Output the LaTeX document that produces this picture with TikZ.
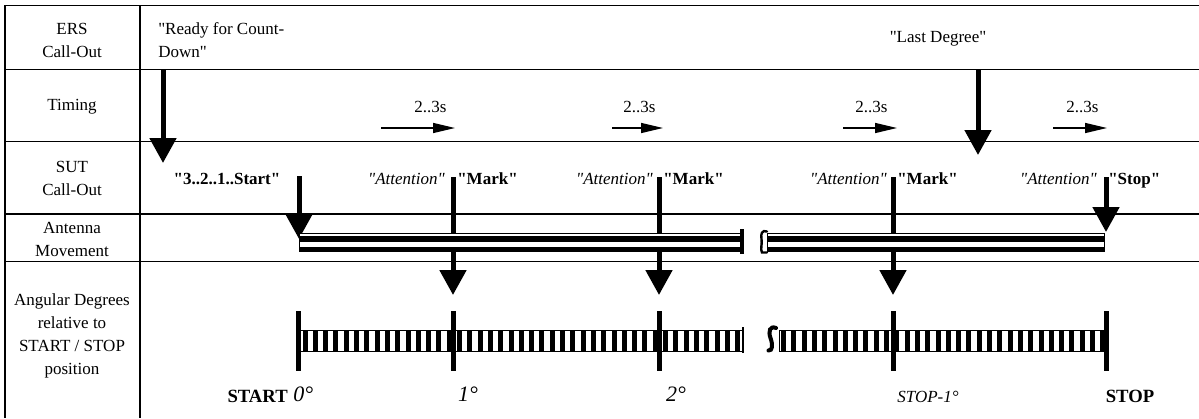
\documentclass[tikz,border=0pt]{standalone}
\usepackage{fontspec}
\setmainfont{Liberation Serif}[Ligatures=TeXOff]
\usetikzlibrary{arrows.meta}
\newcommand\fsA{\fontsize{12.75pt}{17.25pt}\selectfont}
\newcommand\fsB{\fontsize{16.5pt}{18pt}\selectfont}
\newcommand\fsC{\fontsize{14pt}{16pt}\selectfont}
\begin{document}
\begin{tikzpicture}[x=0.75pt,y=-0.75pt,
  grid/.style={line width=1.1pt},
  lab/.style={align=center,font=\fsA,inner sep=0pt},
  txt/.style={font=\fsA,inner sep=0pt},
  boldtxt/.style={font=\fsA\bfseries,inner sep=0pt},
  itxt/.style={font=\fsA\itshape,inner sep=0pt},
  bigarrow/.style={line width=3.75pt,-{Triangle[length=18.75pt,width=19.5pt]}},
  timearrow/.style={line width=1.1pt,-{Triangle[length=16.5pt,width=7.5pt]}},
  tickmark/.style={line width=3.75pt},
  thinout/.style={line width=0.75pt},
  brk/.style={line width=1.8pt,line cap=round},
]
\useasboundingbox (0,0) rectangle (1199,418);
% table grid
\draw[grid] (1199,5.7) -- (5,5.7) -- (5,418);
\draw[grid] (140,5.7) -- (140,418);
\foreach \yy in {69.3,141.5,214,261.7} \draw[grid] (5,\yy) -- (1199,\yy);

% left column labels
\node[lab] (l1) at (72,40) {ERS\\Call-Out};
\node[lab] (l2) at (72,107) {Timing};
\node[lab] (l3) at (72,178.5) {SUT\\Call-Out};
\node[lab] (l4) at (72,239.5) {Antenna\\Movement};
\node[lab] (l5) at (72,335.5) {Angular Degrees\\relative to\\START / STOP\\position};

% ERS call-outs
\node[txt,align=left,anchor=west] (rdy) at (158,40) {"Ready for Count-\\Down"};
\node[txt] (last) at (938,38.5) {"Last Degree"};

% big arrows
\coordinate (a1s) at (163,69.3);   \coordinate (a1e) at (163,163);
\coordinate (a2s) at (978,69.3);   \coordinate (a2e) at (978,155);
\coordinate (a3s) at (299,176);    \coordinate (a3e) at (299,239);
\coordinate (a4s) at (453,177);    \coordinate (a4e) at (453,295);
\coordinate (a5s) at (659,177);    \coordinate (a5e) at (659,295);
\coordinate (a6s) at (893,177);    \coordinate (a6e) at (893,295);
\coordinate (a7s) at (1106,177);   \coordinate (a7e) at (1106,232);
\foreach \k in {1,...,7} \draw[bigarrow] (a\k s) -- (a\k e);

% timing arrows
\coordinate (t1s) at (381,128); \coordinate (t1e) at (455,128);
\coordinate (t2s) at (612,128); \coordinate (t2e) at (663,128);
\coordinate (t3s) at (843,128); \coordinate (t3e) at (897,128);
\coordinate (t4s) at (1053,128); \coordinate (t4e) at (1107,128);
\foreach \k in {1,...,4} \draw[timearrow] (t\k s) -- (t\k e);
\node[txt] (tl1) at (430.5,107) {2..3s};
\node[txt] (tl2) at (639.5,107) {2..3s};
\node[txt] (tl3) at (871.5,107) {2..3s};
\node[txt] (tl4) at (1082.5,107) {2..3s};

% antenna movement bars
\fill[white] (299,233.5) rectangle (742,251);
\draw[thinout] (299,233.5) rectangle (742,251);
\fill (299,236) rectangle (742,241.5);
\fill (299,246.5) rectangle (742,251);
\draw[line width=2.5pt] (742,229) -- (742,253.5);
\draw[brk] (767,231.5) .. controls (762,229.5) and (760.5,234) .. (761.5,239) .. controls (762.5,244) and (760,249) .. (762,252.5) -- (767,252.5);
\fill[white] (767,233.5) rectangle (1104,251);
\draw[thinout] (767,233.5) rectangle (1104,251);
\fill (767,236) rectangle (1104,241.5);
\fill (767,246.5) rectangle (1104,251);

% angular scale
\draw[thinout] (299,330) rectangle (743,351);
\foreach \i in {0,...,42} \fill ({302.5+\i*10.3},330) rectangle ++(5,21);
\draw[line width=1.5pt] (742.5,327) -- (742.5,353);
\draw[line width=3pt,line cap=round] (776,328) .. controls (770,325.5) and (768,331) .. (770.5,338) .. controls (773,345) and (772.5,351) .. (768.5,350.5);
\draw[thinout] (779,330) rectangle (1106,351);
\foreach \i in {0,...,31} \fill ({781+\i*10.3},330) rectangle ++(5,21);
\fill (1100,330) rectangle (1106,351);
\foreach \xx in {298,453,659,893,1106} \draw[tickmark] (\xx,311) -- (\xx,371);

% SUT call-outs
\node[boldtxt] (s0) at (227,179) {"3..2..1..Start"};
\node[itxt,anchor=base east] (at1) at (445,184.5) {"Attention"};
\node[boldtxt,anchor=base west] (mk1) at (457,184.5) {"Mark"};
\node[itxt,anchor=base east] (at2) at (653,184.5) {"Attention"};
\node[boldtxt,anchor=base west] (mk2) at (663,184.5) {"Mark"};
\node[itxt,anchor=base east] (at3) at (887,184.5) {"Attention"};
\node[boldtxt,anchor=base west] (mk3) at (897,184.5) {"Mark"};
\node[itxt,anchor=base east] (at4) at (1097,184.5) {"Attention"};
\node[boldtxt,anchor=base west] (stp) at (1108,184.5) {"Stop"};

% degree labels
\node[font=\fsC\bfseries,inner sep=0pt,anchor=base east] (start) at (288,402) {START};
\node[font=\fsB\itshape,inner sep=0pt,anchor=base west] (d0) at (293,401) {0°};
\node[font=\fsB\itshape,inner sep=0pt,anchor=base] (d1) at (468,401) {1°};
\node[font=\fsB\itshape,inner sep=0pt,anchor=base] (d2) at (676,401) {2°};
\node[font=\fsA\itshape,inner sep=0pt,anchor=base] (dm) at (928,402) {STOP-1°};
\node[font=\fsC\bfseries,inner sep=0pt,anchor=base] (dstop) at (1130,402) {STOP};
\end{tikzpicture}
\end{document}
